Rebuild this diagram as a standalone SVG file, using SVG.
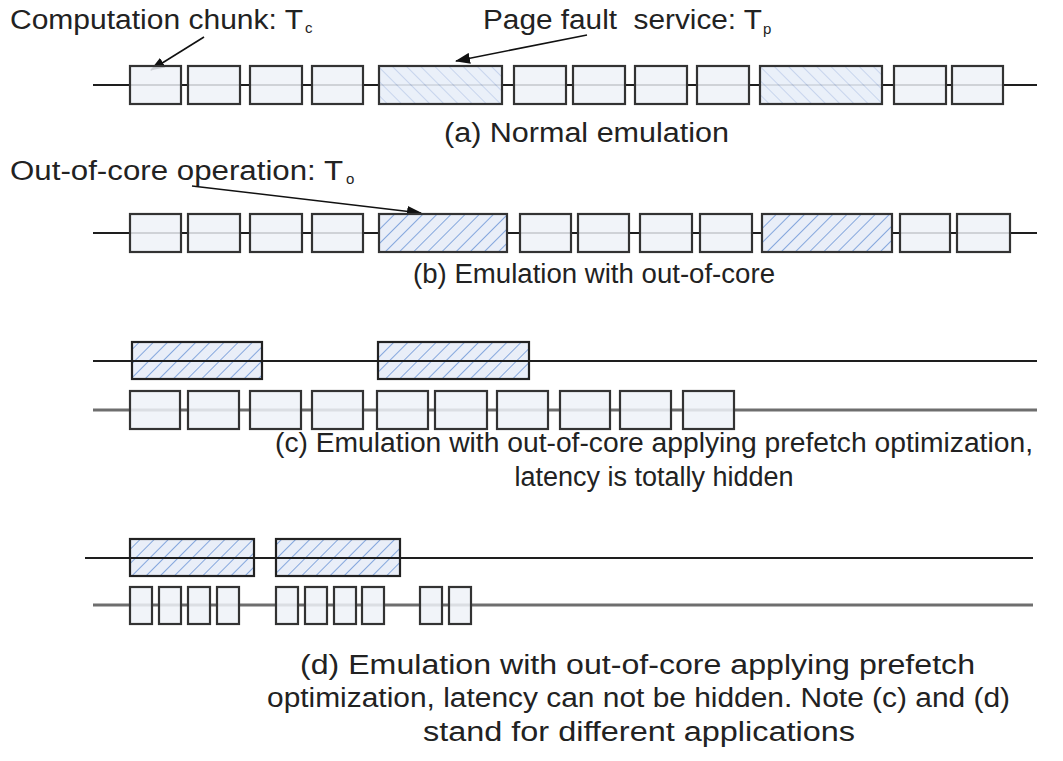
<svg xmlns="http://www.w3.org/2000/svg" width="1063" height="761" viewBox="0 0 1063 761">
  <style>
    .bg { fill: #ffffff; }
    .txt { font-family: "Liberation Sans", Arial, sans-serif; font-size: 27px; fill: #222222; }
    .sub { font-family: "Liberation Sans", Arial, sans-serif; font-size: 15px; fill: #222222; }
    .axis { stroke: #1e1e1e; stroke-width: 2; fill: none; }
    .axis-gray { stroke: #6e6e6e; stroke-width: 3; fill: none; }
    .chunk { fill: #eef2f8; fill-opacity: 0.85; stroke: #333333; stroke-width: 2.2; }
    .fault { fill: url(#hatchBack); fill-opacity: 0.9; stroke: #333333; stroke-width: 2.2; }
    .ooc { fill: url(#hatchFwd); stroke: #333333; stroke-width: 2.2; }
    .ooc-top { fill: url(#hatchFwd); stroke: #222222; stroke-width: 2.2; }
    .arrow { stroke: #111111; stroke-width: 1.6; fill: none; marker-end: url(#head); }
  </style>
  <defs>
    <!-- page fault service: light "\" hatching -->
    <pattern id="hatchBack" patternUnits="userSpaceOnUse" width="10" height="10" patternTransform="rotate(-45)">
      <rect width="10" height="10" fill="#e8eef8"/>
      <line x1="0" y1="0" x2="0" y2="10" stroke="#a7bde3" stroke-width="1.2"/>
    </pattern>
    <!-- out-of-core operation: stronger "/" hatching -->
    <pattern id="hatchFwd" patternUnits="userSpaceOnUse" width="10" height="10" patternTransform="rotate(45)">
      <rect width="10" height="10" fill="#e9eef8"/>
      <line x1="0" y1="0" x2="0" y2="10" stroke="#4f80cf" stroke-width="1.3"/>
    </pattern>
    <marker id="head" markerWidth="15" markerHeight="11" refX="14" refY="5.5" orient="auto" markerUnits="userSpaceOnUse">
      <path d="M0,0 L15,5.5 L0,11 Z" fill="#111111"/>
    </marker>
  </defs>

  <rect class="bg" x="0" y="0" width="1063" height="761"/>

  <!-- labels -->
  <g id="label-tc">
    <text class="txt" x="10" y="29" textLength="293" lengthAdjust="spacingAndGlyphs">Computation chunk: T</text>
    <text class="sub" x="305" y="33">c</text>
  </g>
  <g id="label-tp">
    <text class="txt" x="483" y="29" textLength="279" lengthAdjust="spacingAndGlyphs">Page fault&#160; service: T</text>
    <text class="sub" x="763" y="34">p</text>
  </g>
  <g id="label-to">
    <text class="txt" x="10" y="180" textLength="333" lengthAdjust="spacingAndGlyphs">Out-of-core operation: T</text>
    <text class="sub" x="346" y="184">o</text>
  </g>

  <!-- connectors: timelines and pointer arrows -->
  <g id="connectors">
    <line class="axis" x1="93" y1="85" x2="1037" y2="85"/>
    <line class="axis" x1="93" y1="233" x2="1037" y2="233"/>
    <line class="axis-gray" x1="93" y1="410" x2="1037" y2="410"/>
    <line class="axis-gray" x1="93" y1="605" x2="1033" y2="605"/>
    <line class="arrow" x1="204" y1="37" x2="151" y2="70"/>
    <line class="arrow" x1="587" y1="35" x2="456" y2="61"/>
    <line class="arrow" x1="192" y1="186" x2="421" y2="213"/>
  </g>

  <!-- (a) normal emulation -->
  <g id="row-a">
    <rect class="chunk" x="130" y="66" width="51" height="38"/>
    <rect class="chunk" x="188" y="66" width="52" height="38"/>
    <rect class="chunk" x="250" y="66" width="52" height="38"/>
    <rect class="chunk" x="312" y="66" width="51" height="38"/>
    <rect class="fault" x="379" y="66" width="123" height="38"/>
    <rect class="chunk" x="514" y="66" width="52" height="38"/>
    <rect class="chunk" x="573" y="66" width="52" height="38"/>
    <rect class="chunk" x="635" y="66" width="52" height="38"/>
    <rect class="chunk" x="697" y="66" width="52" height="38"/>
    <rect class="fault" x="760" y="66" width="122" height="38"/>
    <rect class="chunk" x="894" y="66" width="52" height="38"/>
    <rect class="chunk" x="952" y="66" width="51" height="38"/>
  </g>
  <g id="caption-a">
    <text class="txt" x="444" y="142" textLength="285" lengthAdjust="spacingAndGlyphs">(a) Normal emulation</text>
  </g>

  <!-- (b) emulation with out-of-core -->
  <g id="row-b">
    <rect class="chunk" x="130" y="214" width="51" height="38"/>
    <rect class="chunk" x="188" y="214" width="52" height="38"/>
    <rect class="chunk" x="250" y="214" width="52" height="38"/>
    <rect class="chunk" x="312" y="214" width="51" height="38"/>
    <rect class="ooc" x="379" y="214" width="128" height="38"/>
    <rect class="chunk" x="520" y="214" width="51" height="38"/>
    <rect class="chunk" x="578" y="214" width="51" height="38"/>
    <rect class="chunk" x="640" y="214" width="52" height="38"/>
    <rect class="chunk" x="700" y="214" width="52" height="38"/>
    <rect class="ooc" x="762" y="214" width="130" height="38"/>
    <rect class="chunk" x="900" y="214" width="50" height="38"/>
    <rect class="chunk" x="957" y="214" width="53" height="38"/>
  </g>
  <g id="caption-b">
    <text class="txt" x="413" y="283" textLength="362" lengthAdjust="spacingAndGlyphs">(b) Emulation with out-of-core</text>
  </g>

  <!-- (c) prefetch, latency hidden -->
  <g id="row-c-io">
    <rect class="ooc-top" x="132" y="342" width="130" height="37"/>
    <rect class="ooc-top" x="378" y="342" width="151" height="37"/>
    <line class="axis" x1="93" y1="361" x2="1037" y2="361"/>
  </g>
  <g id="row-c-compute">
    <rect class="chunk" x="130" y="391" width="50" height="38"/>
    <rect class="chunk" x="188" y="391" width="51" height="38"/>
    <rect class="chunk" x="250" y="391" width="51" height="38"/>
    <rect class="chunk" x="312" y="391" width="51" height="38"/>
    <rect class="chunk" x="377" y="391" width="51" height="38"/>
    <rect class="chunk" x="435" y="391" width="52" height="38"/>
    <rect class="chunk" x="497" y="391" width="51" height="38"/>
    <rect class="chunk" x="560" y="391" width="50" height="38"/>
    <rect class="chunk" x="620" y="391" width="51" height="38"/>
    <rect class="chunk" x="683" y="391" width="51" height="38"/>
  </g>
  <g id="caption-c">
    <text class="txt" x="275" y="452" textLength="758" lengthAdjust="spacingAndGlyphs">(c) Emulation with out-of-core applying prefetch optimization,</text>
    <text class="txt" x="654" y="486" text-anchor="middle">latency is totally hidden</text>
  </g>

  <!-- (d) prefetch, latency not hidden -->
  <g id="row-d-io">
    <rect class="ooc-top" x="130" y="539" width="124" height="37"/>
    <rect class="ooc-top" x="276" y="539" width="124" height="37"/>
    <line class="axis" x1="85" y1="558" x2="1033" y2="558"/>
  </g>
  <g id="row-d-compute">
    <rect class="chunk" x="130" y="587" width="22" height="37"/>
    <rect class="chunk" x="159" y="587" width="22" height="37"/>
    <rect class="chunk" x="188" y="587" width="22" height="37"/>
    <rect class="chunk" x="217" y="587" width="22" height="37"/>
    <rect class="chunk" x="276" y="587" width="22" height="37"/>
    <rect class="chunk" x="305" y="587" width="22" height="37"/>
    <rect class="chunk" x="334" y="587" width="22" height="37"/>
    <rect class="chunk" x="362" y="587" width="22" height="37"/>
    <rect class="chunk" x="420" y="587" width="22" height="37"/>
    <rect class="chunk" x="449" y="587" width="22" height="37"/>
  </g>
  <g id="caption-d">
    <text class="txt" x="300" y="674" textLength="675" lengthAdjust="spacingAndGlyphs">(d) Emulation with out-of-core applying prefetch</text>
    <text class="txt" x="267" y="707" textLength="743" lengthAdjust="spacingAndGlyphs">optimization, latency can not be hidden. Note (c) and (d)</text>
    <text class="txt" x="423" y="741" textLength="432" lengthAdjust="spacingAndGlyphs">stand for different applications</text>
  </g>
</svg>
